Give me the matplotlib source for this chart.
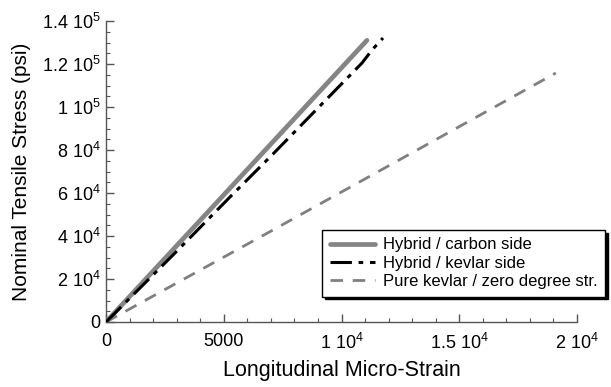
import matplotlib
matplotlib.use("Agg")
import matplotlib.pyplot as plt
from matplotlib.ticker import MultipleLocator

plt.rcParams['font.family'] = ['Liberation Sans', 'DejaVu Sans']
plt.rcParams['mathtext.fontset'] = 'custom'
plt.rcParams['mathtext.rm'] = 'Liberation Sans'
plt.rcParams['mathtext.it'] = 'Liberation Sans:italic'
plt.rcParams['mathtext.default'] = 'regular'

# Data
carbon_x = [0, 2000, 5000, 8000, 11080]
carbon_y = [0, 23650, 59100, 94600, 131000]
kevlar_x = [0, 1656, 2930, 5265, 7049, 10870, 11295, 11762]
kevlar_y = [0, 18140, 32090, 58140, 77670, 120460, 126500, 132090]
pure_x = [0, 7090, 19100]
pure_y = [0, 42790, 115800]

series_labels = ["Hybrid / carbon side", "Hybrid / kevlar side", "Pure kevlar / zero degree str."]

x_ticks = [0, 5000, 10000, 15000, 20000]
x_ticklabels = ["0", "5000", "1 $10^{4}$", "1.5 $10^{4}$", "2 $10^{4}$"]
y_ticks = [0, 20000, 40000, 60000, 80000, 100000, 120000, 140000]
y_ticklabels = ["0", "2 $10^{4}$", "4 $10^{4}$", "6 $10^{4}$", "8 $10^{4}$",
                "1 $10^{5}$", "1.2 $10^{5}$", "1.4 $10^{5}$"]

fig = plt.figure(figsize=(6.11, 3.87), dpi=100)
ax = fig.add_axes([106/611, 1 - 322/387, 471/611, 301/387])

ax.plot(carbon_x, carbon_y, color='#858585', lw=3.4, solid_capstyle='round',
        label=series_labels[0], zorder=3)
ax.plot(kevlar_x, kevlar_y, color='black', lw=2.2, dashes=[7, 2.2, 1.5, 2.2],
        label=series_labels[1], zorder=4)
ax.plot(pure_x, pure_y, color='#808080', lw=2.0, dashes=[4.5, 3.5],
        label=series_labels[2], zorder=2)

ax.set_xlim(0, 20000)
ax.set_ylim(0, 140000)
ax.set_xticks(x_ticks)
ax.set_xticklabels(x_ticklabels)
ax.set_yticks(y_ticks)
ax.set_yticklabels(y_ticklabels)
ax.xaxis.set_minor_locator(MultipleLocator(1000))
ax.yaxis.set_minor_locator(MultipleLocator(5000))

for s in ['top', 'right']:
    ax.spines[s].set_visible(False)
for s in ['left', 'bottom']:
    ax.spines[s].set_color('#555555')
    ax.spines[s].set_linewidth(1.0)

ax.tick_params(which='major', direction='in', length=6, width=1.0, color='#555555',
               labelsize=13)
ax.tick_params(axis='x', which='major', pad=8)
ax.tick_params(axis='y', which='major', pad=4)
ax.tick_params(which='minor', direction='in', length=3, width=0.8, color='#555555')

ax.set_xlabel("Longitudinal Micro-Strain", fontsize=15.5, labelpad=5)
ax.set_ylabel("Nominal Tensile Stress (psi)", fontsize=15, labelpad=8)

leg = ax.legend(loc='upper left', bbox_to_anchor=((322 - 106) / 471, (322 - 230) / 301),
                frameon=True, fancybox=False, shadow={'color': 'black', 'alpha': 1},
                fontsize=12, handlelength=2.7, borderpad=0.45, labelspacing=0.2,
                handletextpad=0.5, borderaxespad=0)
leg.get_frame().set_edgecolor('black')
leg.get_frame().set_linewidth(1.0)

fig.savefig("out.png", dpi=100)
